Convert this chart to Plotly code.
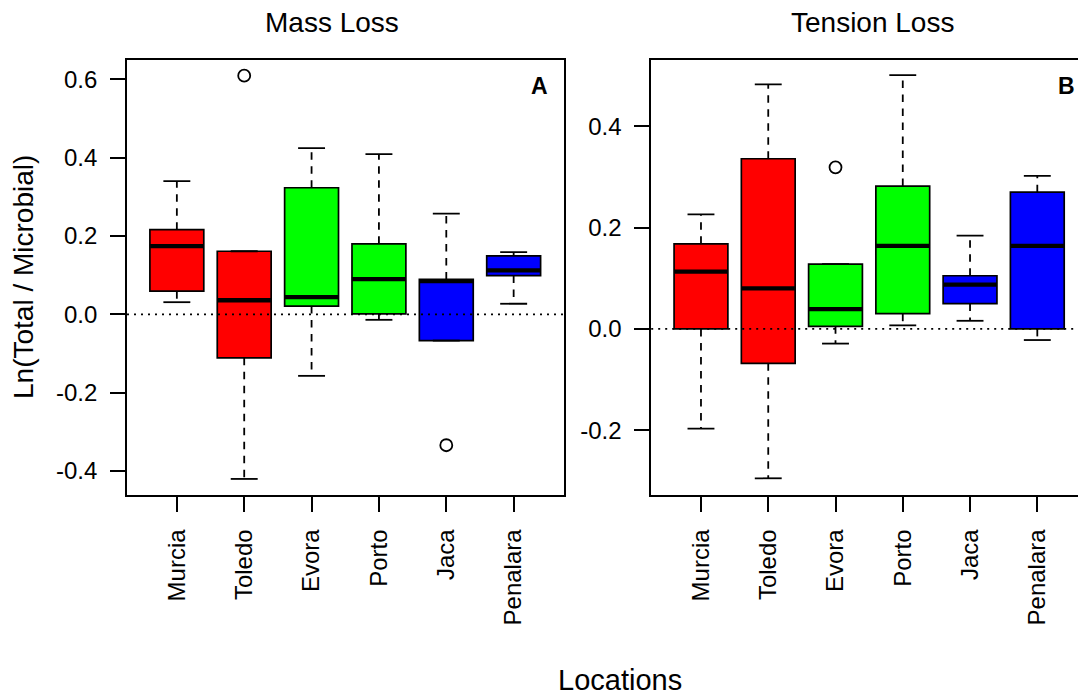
import plotly.graph_objects as go

# ---------------- data ----------------
locations = ["Murcia", "Toledo", "Evora", "Porto", "Jaca", "Penalara"]
box_colors = ["#FF0000", "#FF0000", "#00FF00", "#00FF00", "#0000FF", "#0000FF"]

# Panel A - Mass Loss
mass_lower = [0.031, -0.420, -0.157, -0.014, -0.067, 0.027]
mass_q1 = [0.059, -0.111, 0.021, 0.001, -0.067, 0.099]
mass_median = [0.174, 0.036, 0.044, 0.090, 0.085, 0.112]
mass_q3 = [0.216, 0.161, 0.323, 0.180, 0.089, 0.149]
mass_upper = [0.340, 0.161, 0.424, 0.409, 0.257, 0.159]
mass_out_loc = ["Toledo", "Jaca"]
mass_out_val = [0.609, -0.334]

# Panel B - Tension Loss
tens_lower = [-0.197, -0.295, -0.029, 0.007, 0.016, -0.022]
tens_q1 = [0.000, -0.068, 0.005, 0.030, 0.050, 0.000]
tens_median = [0.113, 0.080, 0.039, 0.164, 0.0875, 0.164]
tens_q3 = [0.168, 0.336, 0.128, 0.282, 0.105, 0.270]
tens_upper = [0.226, 0.483, 0.128, 0.501, 0.184, 0.302]
tens_out_loc = ["Evora"]
tens_out_val = [0.319]

# ---------------- figure ----------------
W, H = 1078, 695
FONT = "Liberation Sans, Arial, sans-serif"
BOXW = 0.8
pos = list(range(1, len(locations) + 1))

fig = go.Figure()


def add_panel(lower, q1, med, q3, upper, out_loc, out_val, xa, ya):
    for i, name in enumerate(locations):
        fig.add_trace(go.Box(
            x=[pos[i]], q1=[q1[i]], median=[med[i]], q3=[q3[i]],
            lowerfence=[q1[i]], upperfence=[q3[i]],
            width=BOXW, whiskerwidth=0, fillcolor=box_colors[i],
            line=dict(color="black", width=1.7), boxpoints=False,
            xaxis=xa, yaxis=ya, showlegend=False, hoverinfo="skip"))
    # dashed whiskers
    wx, wy = [], []
    for i in range(len(locations)):
        wx += [pos[i], pos[i], None, pos[i], pos[i], None]
        wy += [q3[i], upper[i], None, q1[i], lower[i], None]
    fig.add_trace(go.Scatter(x=wx, y=wy, mode="lines",
                             line=dict(color="black", width=1.8, dash="7.5px,6.5px"),
                             xaxis=xa, yaxis=ya, showlegend=False, hoverinfo="skip"))
    # staples
    sx, sy = [], []
    for i in range(len(locations)):
        for v in (upper[i], lower[i]):
            sx += [pos[i] - BOXW / 4, pos[i] + BOXW / 4, None]
            sy += [v, v, None]
    fig.add_trace(go.Scatter(x=sx, y=sy, mode="lines",
                             line=dict(color="black", width=1.8),
                             xaxis=xa, yaxis=ya, showlegend=False, hoverinfo="skip"))
    # thick medians
    mx, my = [], []
    for i in range(len(locations)):
        mx += [pos[i] - BOXW / 2, pos[i] + BOXW / 2, None]
        my += [med[i], med[i], None]
    fig.add_trace(go.Scatter(x=mx, y=my, mode="lines",
                             line=dict(color="black", width=4.3),
                             xaxis=xa, yaxis=ya, showlegend=False, hoverinfo="skip"))
    # outliers
    fig.add_trace(go.Scatter(
        x=[pos[locations.index(n)] for n in out_loc], y=out_val, mode="markers",
        marker=dict(symbol="circle-open", size=12, color="black", line=dict(width=1.8)),
        xaxis=xa, yaxis=ya, showlegend=False, hoverinfo="skip"))


add_panel(mass_lower, mass_q1, mass_median, mass_q3, mass_upper,
          mass_out_loc, mass_out_val, "x", "y")
add_panel(tens_lower, tens_q1, tens_median, tens_q3, tens_upper,
          tens_out_loc, tens_out_val, "x2", "y2")

# zero reference lines
for xa, ya in (("x", "y"), ("x2", "y2")):
    fig.add_shape(type="line", xref=f"{xa} domain", yref=ya, x0=0, x1=1, y0=0, y1=0,
                  line=dict(color="black", width=1.6, dash="2px,5px"), layer="above")

y_dom = [1 - 495 / H, 1 - 60 / H]
axis_common = dict(showgrid=False, zeroline=False, showline=True, linecolor="black",
                   linewidth=1.6, ticks="outside", ticklen=15, tickwidth=1.6,
                   tickcolor="black", ticklabelstandoff=8,
                   tickfont=dict(family=FONT, size=24, color="black"))

fig.update_layout(
    width=W, height=H, margin=dict(l=0, r=0, t=0, b=0),
    paper_bgcolor="white", plot_bgcolor="white", showlegend=False,
    font=dict(family=FONT, color="black"),
    xaxis=dict(domain=[127 / W, 563.5 / W], range=[0.26, 6.74], tickvals=pos,
               ticktext=locations, tickangle=-90, mirror=True, anchor="y", **axis_common),
    yaxis=dict(domain=y_dom, range=[-0.461, 0.649], tickvals=[-0.4, -0.2, 0, 0.2, 0.4, 0.6],
               ticktext=["-0.4", "-0.2", "0.0", "0.2", "0.4", "0.6"], mirror=True,
               anchor="x", **axis_common),
    xaxis2=dict(domain=[651.2 / W, 1.0], range=[0.26, 6.605], tickvals=pos,
                ticktext=locations, tickangle=-90, mirror=True, anchor="y2", **axis_common),
    yaxis2=dict(domain=y_dom, range=[-0.328, 0.531], tickvals=[-0.2, 0, 0.2, 0.4],
                ticktext=["-0.2", "0.0", "0.2", "0.4"], mirror=False,
                anchor="x2", **axis_common),
)

ann_font = dict(family=FONT, size=28, color="black")
fig.add_annotation(text="Mass Loss", xref="paper", yref="paper", x=331.6 / W, y=1 - 23 / H,
                   xanchor="center", yanchor="middle", showarrow=False, font=ann_font)
fig.add_annotation(text="Tension Loss", xref="paper", yref="paper", x=872 / W, y=1 - 23 / H,
                   xanchor="center", yanchor="middle", showarrow=False, font=ann_font)
fig.add_annotation(text="Locations", xref="paper", yref="paper", x=619.5 / W, y=1 - 680 / H,
                   xanchor="center", yanchor="middle", showarrow=False,
                   font=dict(family=FONT, size=29, color="black"))
fig.add_annotation(text="Ln(Total / Microbial)", xref="paper", yref="paper", x=23 / W,
                   y=1 - 277 / H, xanchor="center", yanchor="middle", textangle=-90,
                   showarrow=False, font=ann_font)
bold_font = dict(family=FONT, size=23, color="black")
fig.add_annotation(text="<b>A</b>", xref="x domain", yref="y domain", x=(539 - 127) / (563.5 - 127),
                   y=1 - 26 / 435, xanchor="center", yanchor="middle", showarrow=False,
                   font=bold_font)
fig.add_annotation(text="<b>B</b>", xref="x2 domain", yref="y2 domain", x=(1066.7 - 651.2) / (W - 651.2),
                   y=1 - 26 / 435, xanchor="center", yanchor="middle", showarrow=False,
                   font=bold_font)

fig.write_html("out.html")
